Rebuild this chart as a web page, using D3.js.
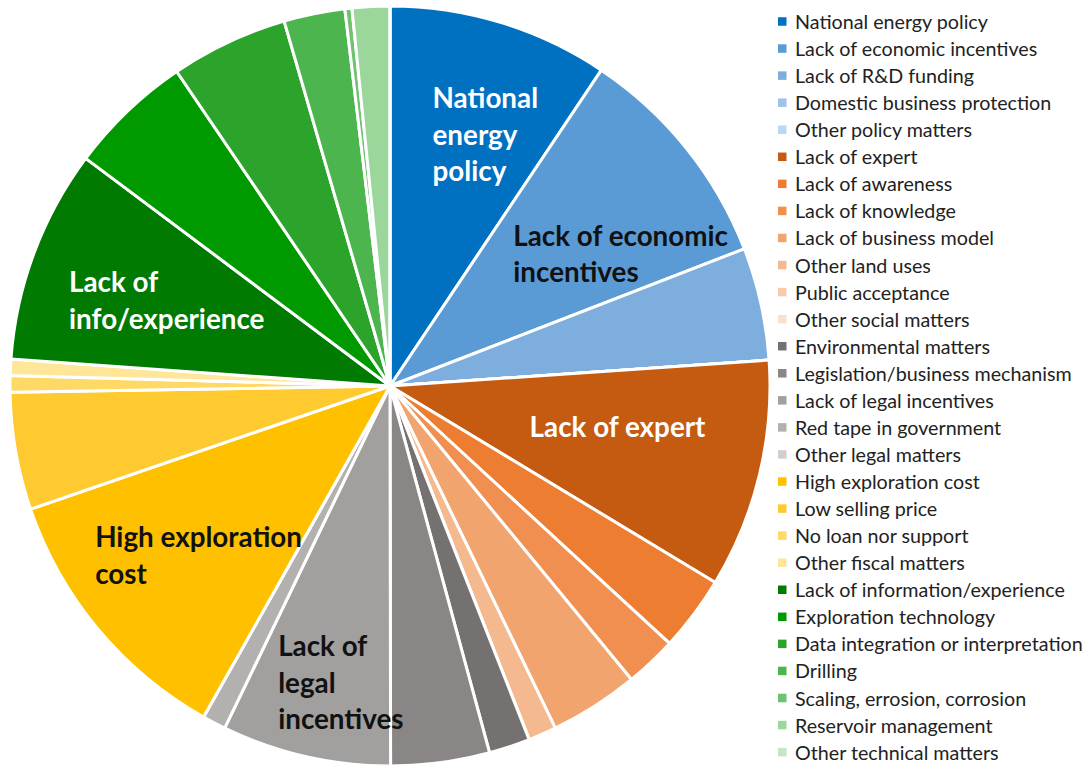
<!DOCTYPE html>
<html>
<head>
<meta charset="utf-8">
<script src="https://cdn.jsdelivr.net/npm/d3@7"></script>
<style>
  html, body { margin: 0; padding: 0; background: #ffffff; }
  svg { display: block; }
</style>
</head>
<body>
<svg id="chart" width="1092" height="767"></svg>
<script>
// Categories of barriers, in drawing order (clockwise from 12 o'clock)
const categories = [
  "National energy policy",
  "Lack of economic incentives",
  "Lack of R&D funding",
  "Domestic business protection",
  "Other policy matters",
  "Lack of expert",
  "Lack of awareness",
  "Lack of knowledge",
  "Lack of business model",
  "Other land uses",
  "Public acceptance",
  "Other social matters",
  "Environmental matters",
  "Legislation/business mechanism",
  "Lack of legal incentives",
  "Red tape in government",
  "Other legal matters",
  "High exploration cost",
  "Low selling price",
  "No loan nor support",
  "Other fiscal matters",
  "Lack of information/experience",
  "Exploration technology",
  "Data integration or interpretation",
  "Drilling",
  "Scaling, errosion, corrosion",
  "Reservoir management",
  "Other technical matters"
];

// Share of responses (%)
const shares = [
  9.4, 9.75, 4.8, 0, 0,
  9.75, 3.2, 2.2, 3.8, 1.2, 0, 0,
  1.75, 4.2, 7.2, 1.0, 0,
  11.6, 5.0, 0.7, 0.7,
  9.1, 5.3, 5.0, 2.6, 0.3, 1.6, 0
];

const colors = [
  "#0070C0", "#5B9BD5", "#7DAEDE", "#9DC3E6", "#BDD7EE",
  "#C55A11", "#ED7D31", "#F08F4F", "#F2A46E", "#F5B98F", "#F8CBAD", "#FBE0D0",
  "#767171", "#8A8686", "#A29F9F", "#B3B0B0", "#D0CECE",
  "#FFC000", "#FFCA2F", "#FFD966", "#FFE699",
  "#007A00", "#009A00", "#2CA42C", "#4DB54D", "#70C270", "#9BD69B", "#C5E6C5"
];

// In-slice labels: which category, how the text breaks, and its colour
const sliceLabels = [
  { key: "National energy policy", lines: ["National", "energy", "policy"], fill: "#ffffff" },
  { key: "Lack of economic incentives", lines: ["Lack of economic", "incentives"], fill: "#111111" },
  { key: "Lack of expert", lines: ["Lack of expert"], fill: "#ffffff" },
  { key: "Lack of legal incentives", lines: ["Lack of", "legal", "incentives"], fill: "#111111" },
  { key: "High exploration cost", lines: ["High exploration", "cost"], fill: "#111111" },
  { key: "Lack of information/experience", lines: ["Lack of", "info/experience"], fill: "#ffffff" }
];

// Nudges from each slice's label centroid (layout only)
const labelNudge = {
  "National energy policy": [18, 3],
  "Lack of economic incentives": [23, 34],
  "Lack of expert": [-31, -22],
  "Lack of legal incentives": [10, 37],
  "High exploration cost": [13, -1],
  "Lack of information/experience": [26, 7]
};

const data = categories.map((c, i) => ({ name: c, value: shares[i], color: colors[i] }));

const svg = d3.select("#chart");
const cx = 390, cy = 386, R = 380;

const color = d3.scaleOrdinal().domain(categories).range(colors);

const pie = d3.pie().sort(null).value(d => d.value);
const arcs = pie(data);
const arc = d3.arc().innerRadius(0).outerRadius(R);
const labelArc = d3.arc().innerRadius(R * 0.7).outerRadius(R * 0.7);

const g = svg.append("g").attr("transform", `translate(${cx},${cy})`);

g.selectAll("path.slice")
  .data(arcs)
  .join("path")
  .attr("class", "slice")
  .attr("d", arc)
  .attr("fill", d => color(d.data.name))
  .attr("stroke", "#ffffff")
  .attr("stroke-width", 3)
  .attr("stroke-linejoin", "round");

// Slice labels, left-aligned multi-line blocks centred on the nudged centroid
const lineH = 36.5;
sliceLabels.forEach(lab => {
  const a = arcs.find(d => d.data.name === lab.key);
  const [px, py] = labelArc.centroid(a);
  const [nx, ny] = labelNudge[lab.key];
  const bx = px + nx, by = py + ny;
  const t = g.append("text")
    .attr("font-family", "Lato, 'Open Sans', sans-serif")
    .attr("font-weight", 700)
    .attr("font-size", 27.8)
    .attr("fill", lab.fill);
  const n = lab.lines.length;
  const spans = lab.lines.map((ln, i) =>
    t.append("tspan")
      .attr("y", by + (i - (n - 1) / 2) * lineH)
      .attr("dominant-baseline", "central")
      .text(ln)
  );
  const w = d3.max(spans, s => s.node().getComputedTextLength());
  spans.forEach(s => s.attr("x", bx - w / 2));
});

// Legend
const legend = svg.append("g").attr("transform", "translate(778,21.5)");
const rowH = 27.06;
const items = legend.selectAll("g.item")
  .data(categories)
  .join("g")
  .attr("class", "item")
  .attr("transform", (d, i) => `translate(0,${i * rowH})`);

items.append("rect")
  .attr("x", 0)
  .attr("y", -4.25)
  .attr("width", 8.5)
  .attr("height", 8.5)
  .attr("fill", d => color(d));

items.append("text")
  .attr("x", 17)
  .attr("y", 0)
  .attr("dominant-baseline", "central")
  .attr("font-family", "Lato, 'Open Sans', sans-serif")
  .attr("font-size", 19.7)
  .attr("fill", "#222222")
  .text(d => d);
</script>
</body>
</html>
